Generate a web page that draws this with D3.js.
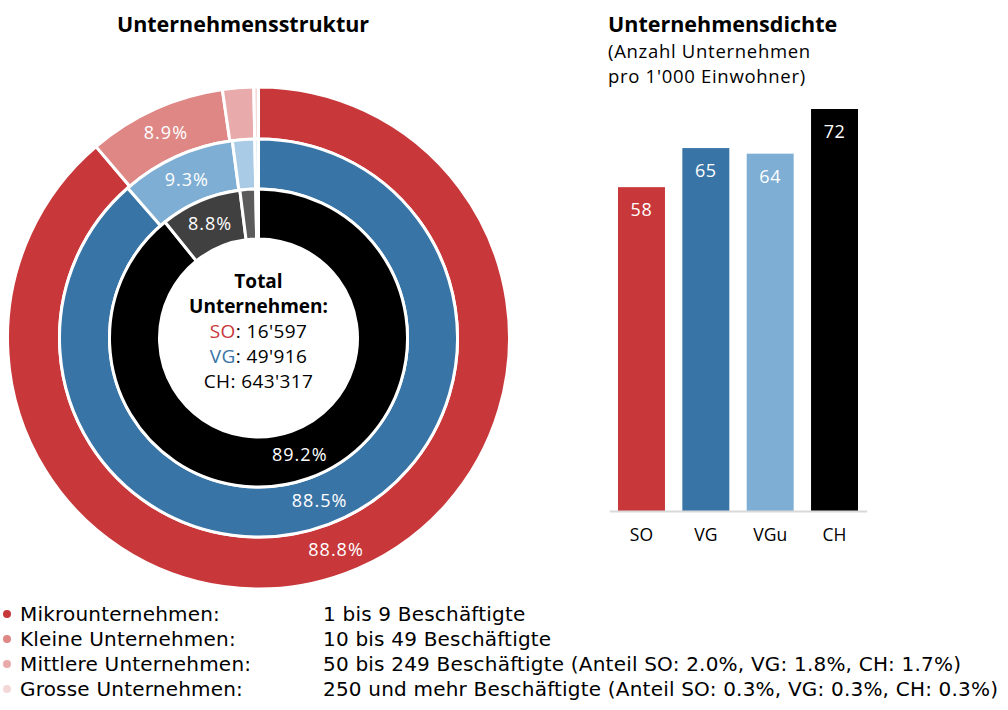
<!DOCTYPE html>
<meta charset="utf-8">
<style type="text/css">
    body{
        margin: 0;
        background: #fff;
    }
    svg{
      display: block;
    }
    text{
      font-family: "Open Sans", "Liberation Sans", Arial, sans-serif;
    }
    .legend text{
      font-family: "DejaVu Sans", "Open Sans", sans-serif;
    }
</style>
<body>
<script src="https://cdn.jsdelivr.net/npm/d3@7"></script>
<script>
// size classes of companies
var sizeClasses = ["Mikrounternehmen", "Kleine Unternehmen", "Mittlere Unternehmen", "Grosse Unternehmen"];
var sizeRanges  = ["1 bis 9 Beschäftigte", "10 bis 49 Beschäftigte",
                   "50 bis 249 Beschäftigte (Anteil SO: 2.0%, VG: 1.8%, CH: 1.7%)",
                   "250 und mehr Beschäftigte (Anteil SO: 0.3%, VG: 0.3%, CH: 0.3%)"];

// share of companies per size class (%), outer ring to inner ring
var shareSO = [88.8, 8.9, 2.0, 0.3];
var shareVG = [88.5, 9.3, 1.8, 0.3];
var shareCH = [89.2, 8.8, 1.7, 0.3];

// total number of companies
var totalRegions = ["SO", "VG", "CH"];
var totalValues  = ["16'597", "49'916", "643'317"];

// density: companies per 1'000 inhabitants
var densityRegions = ["SO", "VG", "VGu", "CH"];
var densityValues  = [58, 65, 64, 72];

var colorsSO = ["#c8373a", "#de8785", "#e8aaab", "#f4d8d8"];
var colorsVG = ["#3874a6", "#7eaed4", "#a9cbe6", "#d4e5f2"];
var colorsCH = ["#000000", "#404040", "#5b5b5b", "#8a8a8a"];
var barColors = ["#c8373a", "#3874a6", "#7eaed4", "#000000"];

var width = 1008, height = 710;

var svg = d3.select("body")
  .append("svg")
  .attr("width", width)
  .attr("height", height);

// ---------- donut ----------
var cx = 258.5, cy = 338;

var rings = [
  {name: "SO", values: shareSO, colors: colorsSO, inner: 199, outer: 251},
  {name: "VG", values: shareVG, colors: colorsVG, inner: 149, outer: 199},
  {name: "CH", values: shareCH, colors: colorsCH, inner: 99,  outer: 149}
];

var pie = d3.pie().sort(null).value(function(d){ return d; });

var donut = svg.append("g")
  .attr("transform", "translate(" + cx + "," + cy + ")");

rings.forEach(function(ring){
  var arc = d3.arc().innerRadius(ring.inner).outerRadius(ring.outer);
  var labelArc = d3.arc().innerRadius((ring.inner + ring.outer) / 2).outerRadius((ring.inner + ring.outer) / 2);
  var slices = pie(ring.values);

  donut.selectAll(".arc-" + ring.name)
    .data(slices)
    .enter().append("path")
    .attr("class", "arc-" + ring.name)
    .attr("d", arc)
    .attr("fill", function(d, i){ return ring.colors[i]; })
    .attr("stroke", "#fff")
    .attr("stroke-width", 3);

  // only the two big classes get a label
  donut.selectAll(".lbl-" + ring.name)
    .data(slices.filter(function(d){ return d.index < 2; }))
    .enter().append("text")
    .attr("class", "lbl-" + ring.name)
    .attr("transform", function(d){ return "translate(" + labelArc.centroid(d) + ")"; })
    .attr("text-anchor", "middle")
    .attr("dy", "0.36em")
    .style("font-size", "18px")
    .style("letter-spacing", "1px")
    .attr("fill", "#fff")
    .text(function(d){ return d3.format(".1f")(d.data) + "%"; });
});

// white centre with totals
donut.append("circle").attr("r", 98).attr("fill", "#fff");

var centre = donut.append("text")
  .attr("text-anchor", "middle")
  .style("font-size", "19px");

centre.append("tspan").attr("x", 0).attr("y", -50).style("font-weight", "bold").text("Total");
centre.append("tspan").attr("x", 0).attr("y", -25).style("font-weight", "bold").text("Unternehmen:");

var centreColors = ["#c8373a", "#3874a6", "#000"];
totalRegions.forEach(function(r, i){
  var t = donut.append("text")
    .attr("text-anchor", "middle")
    .attr("y", 0 + i * 25)
    .style("font-size", "19px")
    .style("letter-spacing", "0.4px");
  t.append("tspan").attr("fill", centreColors[i]).text(r);
  t.append("tspan").attr("fill", "#000").text(": " + totalValues[i]);
});

svg.append("text")
  .attr("x", 243).attr("y", 32)
  .attr("text-anchor", "middle")
  .style("font-size", "21.5px")
  .style("font-weight", "bold")
  .text("Unternehmensstruktur");

// ---------- bar chart ----------
var x = d3.scaleBand()
  .domain(densityRegions)
  .range([609.3, 866.7])
  .paddingInner(0.27)
  .paddingOuter(0.135);

var y = d3.scaleLinear()
  .domain([0, 72])
  .range([511, 109]);

var bars = svg.append("g");

bars.selectAll("rect")
  .data(densityValues)
  .enter().append("rect")
  .attr("x", function(d, i){ return x(densityRegions[i]); })
  .attr("y", function(d){ return y(d); })
  .attr("width", x.bandwidth())
  .attr("height", function(d){ return y(0) - y(d); })
  .attr("fill", function(d, i){ return barColors[i]; });

bars.selectAll(".val")
  .data(densityValues)
  .enter().append("text")
  .attr("class", "val")
  .attr("x", function(d, i){ return x(densityRegions[i]) + x.bandwidth() / 2; })
  .attr("y", function(d){ return y(d) + 29; })
  .attr("text-anchor", "middle")
  .attr("fill", "#fff")
  .style("font-size", "18px")
  .style("letter-spacing", "0.6px")
  .text(function(d){ return d; });

var xAxis = svg.append("g")
  .attr("transform", "translate(0," + y(0) + ")")
  .call(d3.axisBottom(x).tickSize(0).tickPadding(18));

xAxis.select(".domain").attr("stroke", "#d9d9d9").attr("stroke-width", 2);
xAxis.selectAll("text")
  .style("font-family", "'Open Sans', 'Liberation Sans', Arial, sans-serif")
  .style("font-size", "17.5px")
  .attr("fill", "#000");

svg.append("text")
  .attr("x", 608).attr("y", 32)
  .style("font-size", "21.5px")
  .style("font-weight", "bold")
  .text("Unternehmensdichte");

svg.append("text").attr("x", 608).attr("y", 58).style("font-size", "18.5px").style("letter-spacing", "0.7px").text("(Anzahl Unternehmen");
svg.append("text").attr("x", 608).attr("y", 83).style("font-size", "18.5px").style("letter-spacing", "0.7px").text("pro 1'000 Einwohner)");

// ---------- legend ----------
var legend = svg.append("g").attr("class", "legend");

var rows = legend.selectAll("g")
  .data(sizeClasses)
  .enter().append("g")
  .attr("transform", function(d, i){ return "translate(0," + (614 + i * 25) + ")"; });

rows.append("circle")
  .attr("cx", 7).attr("cy", 0).attr("r", 4)
  .attr("fill", function(d, i){ return colorsSO[i]; });

rows.append("text")
  .attr("x", 20).attr("dy", "0.36em")
  .style("font-size", "20px")
  .style("letter-spacing", "0.2px")
  .text(function(d){ return d + ":"; });

rows.append("text")
  .attr("x", 323).attr("dy", "0.36em")
  .style("font-size", "20px")
  .style("letter-spacing", "0.2px")
  .text(function(d, i){ return sizeRanges[i]; });
</script>
</body>
